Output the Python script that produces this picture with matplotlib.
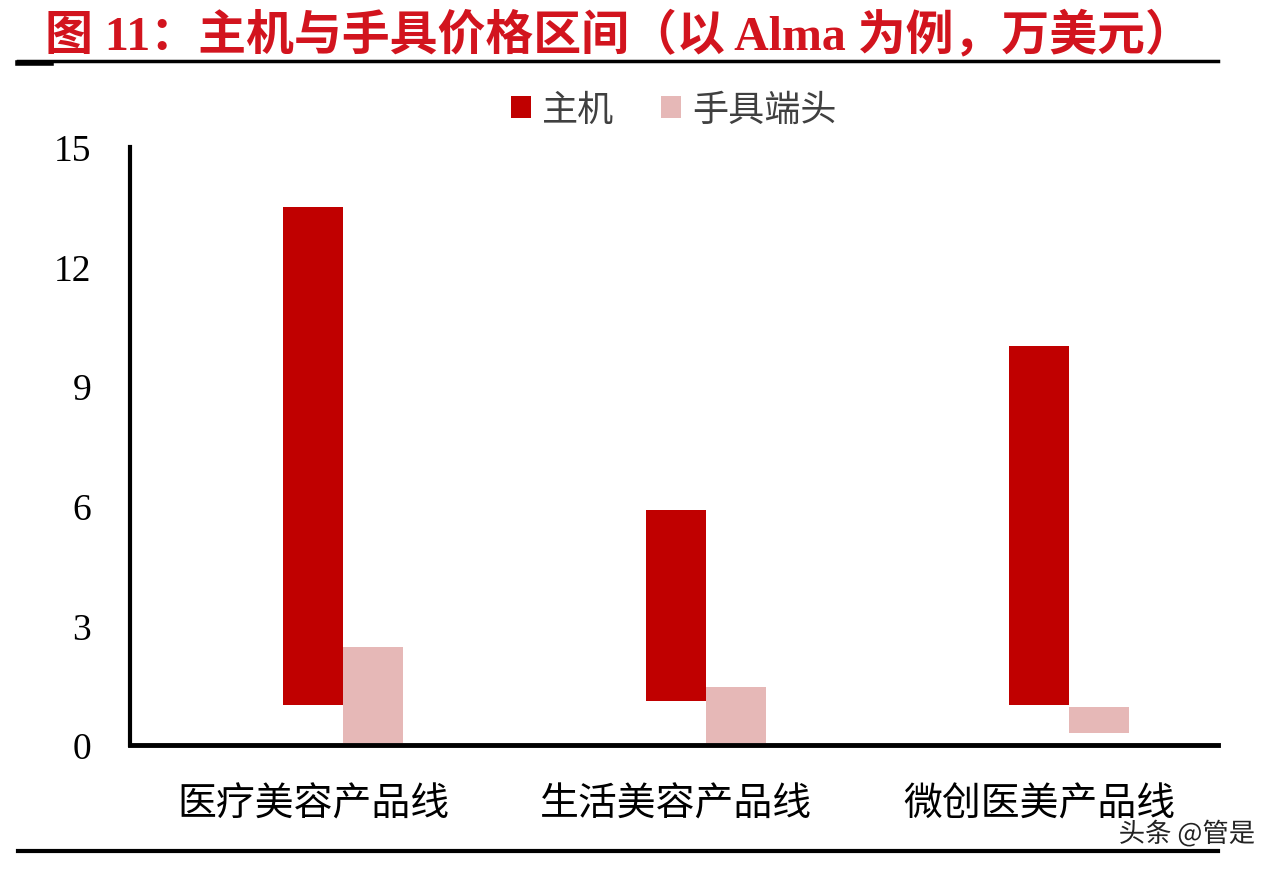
import matplotlib
matplotlib.use("Agg")
from matplotlib import pyplot as plt
from matplotlib.lines import Line2D
import matplotlib.patheffects as pe

categories = ["医疗美容产品线", "生活美容产品线", "微创医美产品线"]
host_low = [1.0, 1.1, 1.0]
host_high = [13.5, 5.9, 10.0]
tip_low = [0.05, 0.05, 0.3]
tip_high = [2.45, 1.45, 0.95]
y_ticks = [0, 3, 6, 9, 12, 15]

red = "#C00000"
pink = "#E6B8B7"
cjk = ["Noto Sans CJK SC", "DejaVu Sans"]

fig = plt.figure(figsize=(12.82, 8.70), dpi=100)
ax = fig.add_axes([0.1014, 0.1425, 0.8486, 0.6875])

w = 0.165
xs = list(range(len(categories)))
host_x = [x - w / 2 for x in xs]
tip_x = [x + w / 2 for x in xs]
ax.bar(host_x, [h - l for h, l in zip(host_high, host_low)], bottom=host_low,
       width=w, color=red, label="主机")
ax.bar(tip_x, [h - l for h, l in zip(tip_high, tip_low)], bottom=tip_low,
       width=w, color=pink, label="手具端头")

ax.set_ylim(0, 15)
ax.set_xlim(-0.587, 2.41)
ax.set_yticks(y_ticks)
ax.set_yticklabels([str(t) for t in y_ticks], family="Liberation Serif", fontsize=27)
ax.set_xticks(host_x)
ax.set_xticklabels(categories, family=cjk, fontsize=28, fontweight="light")
ax.tick_params(axis="y", length=0, pad=28)
ax.tick_params(axis="x", length=0, pad=28)
for s in ["top", "right"]:
    ax.spines[s].set_visible(False)
ax.spines["left"].set_linewidth(3)
ax.spines["bottom"].set_linewidth(3.5)

leg = ax.legend(loc="center", bbox_to_anchor=(0.5, 1.062), ncol=2, frameon=False,
                prop={"family": cjk, "size": 26, "weight": "light"},
                handlelength=0.55, handleheight=0.55, handletextpad=0.3, columnspacing=1.3)
for t in leg.get_texts():
    t.set_color("#404040")

fig.text(0.035, 0.959, "图 11：主机与手具价格区间（以 Alma 为例，万美元）",
         family=["Liberation Serif", "Noto Sans CJK SC"], fontweight="bold",
         fontsize=34.5, color="#D2141E", va="center", ha="left")

fig.add_artist(Line2D([0.014, 0.950], [0.9287, 0.9287], color="black", lw=2.5))
fig.add_artist(Line2D([0.014, 0.040], [0.9270, 0.9270], color="black", lw=4))
fig.add_artist(Line2D([0.014, 0.950], [0.0207, 0.0207], color="black", lw=3))

fig.text(0.979, 0.040, "头条 @管是", family=cjk, fontsize=19, color="#222222",
         ha="right", va="center",
         path_effects=[pe.withStroke(linewidth=3, foreground="white")])

fig.savefig("out.png", dpi=100)
